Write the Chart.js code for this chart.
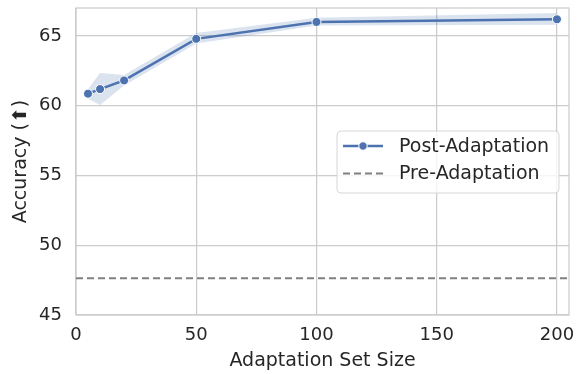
<!DOCTYPE html>
<html>
<head>
<meta charset="utf-8">
<script src="https://cdn.jsdelivr.net/npm/chart.js@4.4.1/dist/chart.umd.min.js"></script>
<style>
  html, body { margin: 0; padding: 0; background: #fff; }
  #wrap { width: 582px; height: 374px; }
</style>
</head>
<body>
<div id="wrap"><canvas id="myChart" width="582" height="374"></canvas></div>
<script>
// Data

const sizes = [5, 10, 20, 50, 100, 200]
const postAcc = [60.86, 61.19, 61.81, 64.79, 66.0, 66.19]
const bandLow = [60.5, 60.05, 61.45, 64.45, 65.75, 65.8]
const bandHigh = [61.2, 62.35, 62.2, 65.2, 66.3, 66.65]
const preAcc = 47.64
const xLimits = [0, 205]
const yLimits = [45, 67]
const xTicks = [0, 50, 100, 150, 200]
const yTicks = [45, 50, 55, 60, 65]

const blue = "#4c72b0"
const gridColor = "#cccccc"
const textColor = "#262626"
const FONT = "'DejaVu Sans', sans-serif"

const pts = (ys) => sizes.map((x, i) => ({ x: x, y: ys[i] }))

// Frame + legend

const framePlugin = {
  id: "frame",
  beforeDatasetsDraw(chart) {
    const { ctx, chartArea: a } = chart
    ctx.save()
    ctx.strokeStyle = gridColor
    ctx.lineWidth = 1.25
    ctx.strokeRect(a.left, a.top, a.right - a.left, a.bottom - a.top)
    ctx.restore()
  },
  afterDraw(chart) {
    const ctx = chart.ctx
    const bx = 337, by = 131, bw = 222, bh = 62
    ctx.save()
    ctx.beginPath()
    ctx.roundRect(bx, by, bw, bh, 4)
    ctx.fillStyle = "rgba(255,255,255,0.8)"
    ctx.fill()
    ctx.strokeStyle = "#d6d6d6"
    ctx.lineWidth = 1
    ctx.stroke()

    // Post-Adaptation
    const y1 = 146, y2 = 173.5
    ctx.strokeStyle = blue
    ctx.lineWidth = 2.5
    ctx.beginPath()
    ctx.moveTo(343, y1)
    ctx.lineTo(383, y1)
    ctx.stroke()
    ctx.beginPath()
    ctx.arc(363, y1, 4.2, 0, Math.PI * 2)
    ctx.fillStyle = blue
    ctx.fill()
    ctx.strokeStyle = "#fff"
    ctx.lineWidth = 1
    ctx.stroke()

    // Pre-Adaptation
    ctx.strokeStyle = "#808080"
    ctx.lineWidth = 2
    ctx.setLineDash([7, 4])
    ctx.beginPath()
    ctx.moveTo(343, y2)
    ctx.lineTo(383, y2)
    ctx.stroke()
    ctx.setLineDash([])

    ctx.fillStyle = textColor
    ctx.font = "19px " + FONT
    ctx.textBaseline = "middle"
    ctx.textAlign = "left"
    ctx.fillText("Post-Adaptation", 399, y1 + 1)
    ctx.fillText("Pre-Adaptation", 399, y2 + 1)
    ctx.restore()
  },
}

// Chart

const ctx = document.getElementById("myChart")

new Chart(ctx, {
  type: "line",
  data: {
    datasets: [
      {
        label: "Post-Adaptation",
        data: pts(postAcc),
        borderColor: blue,
        backgroundColor: blue,
        borderWidth: 2.5,
        pointRadius: 4.5,
        pointBorderColor: "#fff",
        pointBorderWidth: 1,
        pointBackgroundColor: blue,
        tension: 0,
        fill: false,
      },
      {
        label: "band-high",
        data: pts(bandHigh),
        borderWidth: 0,
        pointRadius: 0,
        borderColor: "rgba(0,0,0,0)",
        backgroundColor: "rgba(76,114,176,0.2)",
        fill: "+1",
      },
      {
        label: "band-low",
        data: pts(bandLow),
        borderWidth: 0,
        pointRadius: 0,
        borderColor: "rgba(0,0,0,0)",
        fill: false,
      },
      {
        label: "Pre-Adaptation",
        data: xLimits.map((x) => ({ x: x, y: preAcc })),
        borderColor: "#808080",
        borderWidth: 2,
        borderDash: [7, 4],
        pointRadius: 0,
        fill: false,
      },
    ],
  },
  options: {
    responsive: false,
    animation: false,
    devicePixelRatio: 1,
    layout: { padding: { top: 8, right: 13, left: 0, bottom: 0 } },
    plugins: {
      legend: { display: false },
      tooltip: { enabled: false },
    },
    scales: {
      x: {
        type: "linear",
        min: xLimits[0],
        max: xLimits[1],
        afterBuildTicks: (s) => { s.ticks = xTicks.map((v) => ({ value: v })) },
        afterFit: (s) => { s.height = 59; s.paddingLeft = 0; s.paddingRight = 0 },
        grid: { color: gridColor, lineWidth: 1.25, drawTicks: false },
        border: { display: false },
        ticks: { color: textColor, font: { family: FONT, size: 18 }, padding: 10, maxRotation: 0 },
        title: {
          display: true,
          text: "Adaptation Set Size",
          color: textColor,
          font: { family: FONT, size: 19 },
          padding: { top: 0, bottom: 2 },
        },
      },
      y: {
        min: yLimits[0],
        max: yLimits[1],
        afterBuildTicks: (s) => { s.ticks = yTicks.map((v) => ({ value: v })) },
        afterFit: (s) => { s.width = 76; s.paddingTop = 0; s.paddingBottom = 0 },
        grid: { color: gridColor, lineWidth: 1.25, drawTicks: false },
        border: { display: false },
        ticks: { color: textColor, font: { family: FONT, size: 18 }, padding: 14 },
        title: {
          display: true,
          text: "Accuracy (⬆)",
          color: textColor,
          font: { family: FONT, size: 19 },
          padding: { top: 10, bottom: 0 },
        },
      },
    },
  },
  plugins: [framePlugin],
})
</script>
</body>
</html>
